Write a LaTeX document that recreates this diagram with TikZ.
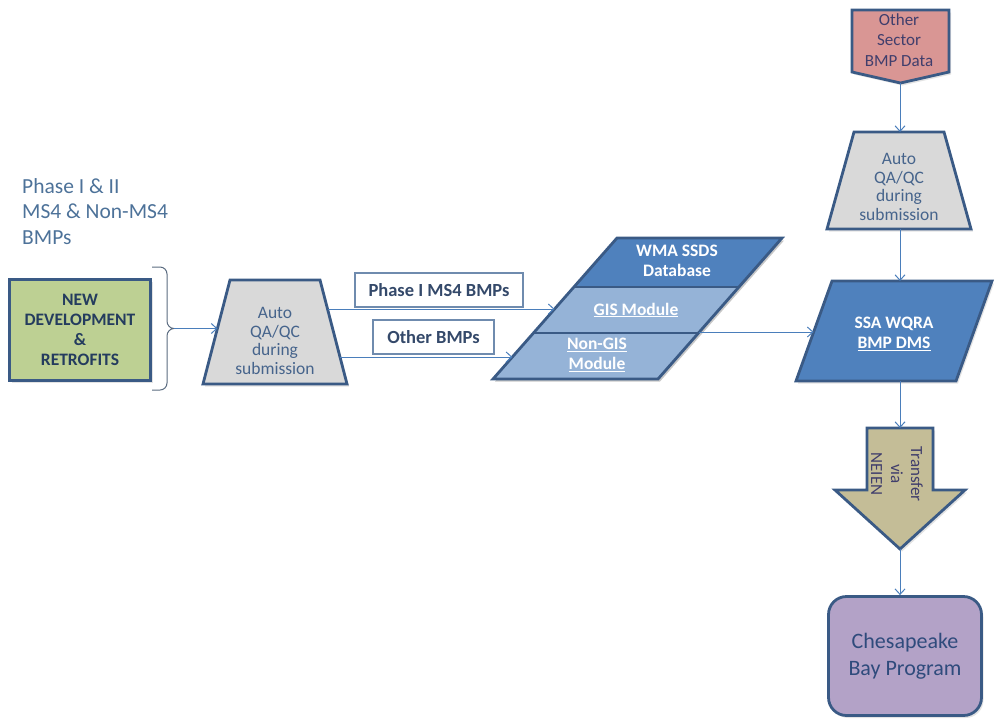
\documentclass[tikz,border=0pt]{standalone}
\usepackage{fontspec}
\setmainfont{Carlito}
\usetikzlibrary{arrows.meta,shadows}
\definecolor{bord}{HTML}{3A5A85}
\definecolor{connc}{HTML}{4A7EBB}
\definecolor{greenf}{HTML}{BDD093}
\definecolor{grayf}{HTML}{D9D9D9}
\definecolor{dbdark}{HTML}{4F81BD}
\definecolor{dblight}{HTML}{95B3D7}
\definecolor{salmon}{HTML}{D99694}
\definecolor{khaki}{HTML}{C4BD97}
\definecolor{lavender}{HTML}{B3A2C7}
\definecolor{navy}{HTML}{243C5E}
\definecolor{trapt}{HTML}{46648C}
\definecolor{phasec}{HTML}{4D7299}
\definecolor{tboxt}{HTML}{34496A}
\definecolor{tboxd}{HTML}{6F8BAE}
\definecolor{pentt}{HTML}{403E6C}
\definecolor{bracec}{HTML}{5A6B80}
\definecolor{cbpt}{HTML}{2F4B7C}
\begin{document}
\begin{tikzpicture}[x=1pt,y=-1pt,
  shd/.style={drop shadow={opacity=0.22, shadow xshift=2pt, shadow yshift=-2.5pt}},
  shp/.style={draw=bord, line width=2.8pt, line join=miter},
  conn/.style={draw=connc, line width=1pt, -{Straight Barb[length=5.5pt,width=10pt]}},
  lbl/.style={align=center, inner sep=0pt},
  tbox/.style={draw=tboxd, line width=1.2pt, fill=white, text=tboxt, font=\bfseries\fontsize{18.5}{20}\selectfont, inner sep=0pt},
  wtxt/.style={lbl, text=white, font=\bfseries\fontsize{17.5}{20}\selectfont},
  qtxt/.style={lbl, text=trapt, font=\fontsize{17.5}{18.5}\selectfont}
]
\useasboundingbox (0,0) rectangle (995,724);

% Phase heading
\node[anchor=north west, align=left, inner sep=0pt, text=phasec, font=\fontsize{21.5}{25.5}\selectfont] (phase) at (22,178) {Phase I \& II\\MS4 \& Non-MS4\\BMPs};

% New development box
\node[shp, shd, fill=greenf, minimum width=141pt, minimum height=101pt, text=navy, align=center, font=\bfseries\fontsize{17.5}{20}\selectfont] (nd) at (80,330) {NEW\\DEVELOPMENT\\\&\\RETROFITS};

% brace
\draw[bracec, line width=1pt] (152,267) -- (160,267) to[out=0,in=90] (167,274) -- (167,321) to[out=-90,in=180] (174,328.5) to[out=180,in=90] (167,336) -- (167,383) to[out=-90,in=0] (160,390) -- (152,390);
\coordinate (brtip) at (174,328.5);

% trapezoid 1
\draw[shp, shd, fill=grayf] (230,280) -- (320,280) -- (347,384) -- (203,384) -- cycle;
\node[qtxt] (t1) at (275,341) {Auto\\QA/QC\\during\\submission};
\coordinate (t1in) at (217.5,328.5);
\coordinate (t1o1) at (327.5,309);
\coordinate (t1o2) at (340,357);

% label boxes
\node[tbox, minimum width=168pt, minimum height=34pt] (pb) at (439,290) {Phase I MS4 BMPs};
\node[tbox, minimum width=121pt, minimum height=34pt] (ob) at (433.5,337) {Other BMPs};

% database parallelogram
\fill[black, opacity=0.22] (619,240.5) -- (784,240.5) -- (660,381.5) -- (495,381.5) -- cycle;
\fill[dbdark] (617,238) -- (782,238) -- (738.9,287) -- (573.9,287) -- cycle;
\fill[dblight] (573.9,287) -- (738.9,287) -- (658,379) -- (493,379) -- cycle;
\draw[shp] (617,238) -- (782,238) -- (658,379) -- (493,379) -- cycle;
\draw[shp] (573.9,287) -- (738.9,287);
\draw[shp] (533.5,333) -- (698.5,333);
\node[wtxt] (wma) at (677,261) {WMA SSDS\\Database};
\node[wtxt] (gis) at (636,310) {\underline{GIS Module}};
\node[wtxt] (ngis) at (597,355) {\underline{Non-GIS}\\\underline{Module}};
\coordinate (db1) at (554.6,309);
\coordinate (db2) at (512.4,357);
\coordinate (dbout) at (699.3,332);

% other sector pentagon
\draw[shp, shd, fill=salmon] (852,10) -- (949,10) -- (949,72) -- (900.5,83) -- (852,72) -- cycle;
\node[lbl, text=pentt, font=\fontsize{17}{20.5}\selectfont] (os) at (899,40) {Other\\Sector\\BMP Data};
\coordinate (ostip) at (900,83);

% trapezoid 2
\draw[shp, shd, fill=grayf] (854,132) -- (944,132) -- (971,229) -- (827,229) -- cycle;
\node[qtxt] (t2) at (899,187) {Auto\\QA/QC\\during\\submission};
\coordinate (t2top) at (900,132);
\coordinate (t2bot) at (900,229);

% SSA parallelogram
\draw[shp, shd, fill=dbdark] (832,281) -- (992,281) -- (956,381) -- (796,381) -- cycle;
\node[wtxt] (ssa) at (894,334) {SSA WQRA\\\underline{BMP DMS}};
\coordinate (ssatop) at (900,281);
\coordinate (ssain) at (813.6,332);
\coordinate (ssabot) at (900,381);

% block arrow
\draw[shp, shd, fill=khaki] (867,428) -- (933,428) -- (933,490) -- (965,490) -- (900,549) -- (835,490) -- (867,490) -- cycle;
\node[lbl, rotate=-90, text=pentt, font=\fontsize{17}{20}\selectfont] (tr) at (897,474) {Transfer\\via\\NEIEN};
\coordinate (batop) at (900,428);
\coordinate (batip) at (900,549);

% Chesapeake
\node[shp, shd, fill=lavender, rounded corners=18pt, minimum width=153pt, minimum height=119pt, text=cbpt, align=center, font=\fontsize{22}{27}\selectfont] (cbp) at (905,656) {Chesapeake\\Bay Program};

% connectors
\draw[conn] (brtip) -- (t1in);
\draw[conn] (t1o1) -- (db1);
\draw[conn] (t1o2) -- (db2);
\draw[conn] (dbout) -- (ssain);
\draw[conn] (ostip) -- (t2top);
\draw[conn] (t2bot) -- (ssatop);
\draw[conn] (ssabot) -- (batop);
\draw[conn] (batip) -- (cbp.north -| batip);
\end{tikzpicture}
\end{document}
